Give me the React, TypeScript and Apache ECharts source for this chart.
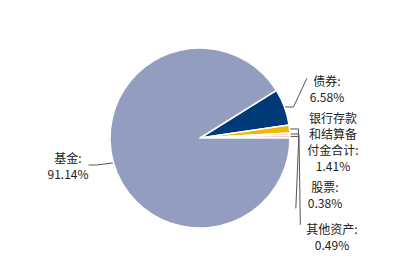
import React, { useEffect, useRef } from "react";
import * as echarts from "echarts";

const categories = ["债券", "银行存款和结算备付金合计", "股票", "其他资产", "基金"];
const values = [6.58, 1.41, 0.38, 0.49, 91.14];
const colors = ["#003A78", "#F2B705", "#D9362B", "#F3C9C4", "#939DC0"];

// label anchor centres (layout only)
const labelPos: [number, number][] = [
  [327, 88],
  [333, 141],
  [325, 194],
  [332, 236],
  [68, 165],
];
// where each guide line meets its label: [dx from left edge, fraction of height]
const lineEnd: ([number, number] | null)[] = [
  [-3, 0.2],
  [-9, 0.42],
  [-12, 0.95],
  [-6, 0.15],
  null,
];

function wrapName(name: string): string {
  if (name.length <= 4) return name + ":";
  const parts: string[] = [];
  for (let i = 0; i < name.length; i += 4) parts.push(name.slice(i, i + 4));
  return parts.join("\n") + ":";
}

export default function App() {
  const ref = useRef<HTMLDivElement>(null);
  useEffect(() => {
    if (!ref.current) return;
    const chart = echarts.init(ref.current, undefined, { renderer: "svg" });
    chart.setOption({
      animation: false,
      backgroundColor: "#ffffff",
      series: [
        {
          type: "pie",
          center: [200, 138],
          radius: [0, 90],
          startAngle: 32,
          clockwise: true,
          avoidLabelOverlap: false,
          itemStyle: { borderColor: "#ffffff", borderWidth: 1.5 },
          label: {
            show: true,
            formatter: (p: any) => wrapName(p.name) + "\n" + values[p.dataIndex].toFixed(2) + "%",
            fontFamily: "Noto Sans CJK SC",
            fontSize: 12,
            lineHeight: 16,
            color: "#222222",
            align: "center",
          },
          labelLine: {
            show: true,
            length: 8,
            length2: 8,
            lineStyle: { color: "#555555", width: 1 },
          },
          labelLayout: (params: any) => {
            const i = params.dataIndex;
            const pos = labelPos[i];
            const out: any = {
              x: pos[0],
              y: pos[1],
              align: "center",
              verticalAlign: "middle",
            };
            const e = lineEnd[i];
            const pts = params.labelLinePoints;
            if (e && pts && pts.length) {
              const w = params.labelRect.width;
              const h = params.labelRect.height;
              const left = pos[0] - w / 2;
              const top = pos[1] - h / 2;
              const p0 = pts[0];
              const p1 = [p0[0] + 9, p0[1]];
              const p2 = [left + e[0], top + h * e[1]];
              out.labelLinePoints = [p0, p1, p2];
            }
            return out;
          },
          data: categories.map((name, i) => ({
            name,
            value: values[i],
            itemStyle: { color: colors[i] },
          })),
        },
      ],
    });
    return () => chart.dispose();
  }, []);
  return (
    <div
      ref={ref}
      style={{ position: "absolute", left: 0, top: 0, width: 400, height: 280 }}
    />
  );
}
